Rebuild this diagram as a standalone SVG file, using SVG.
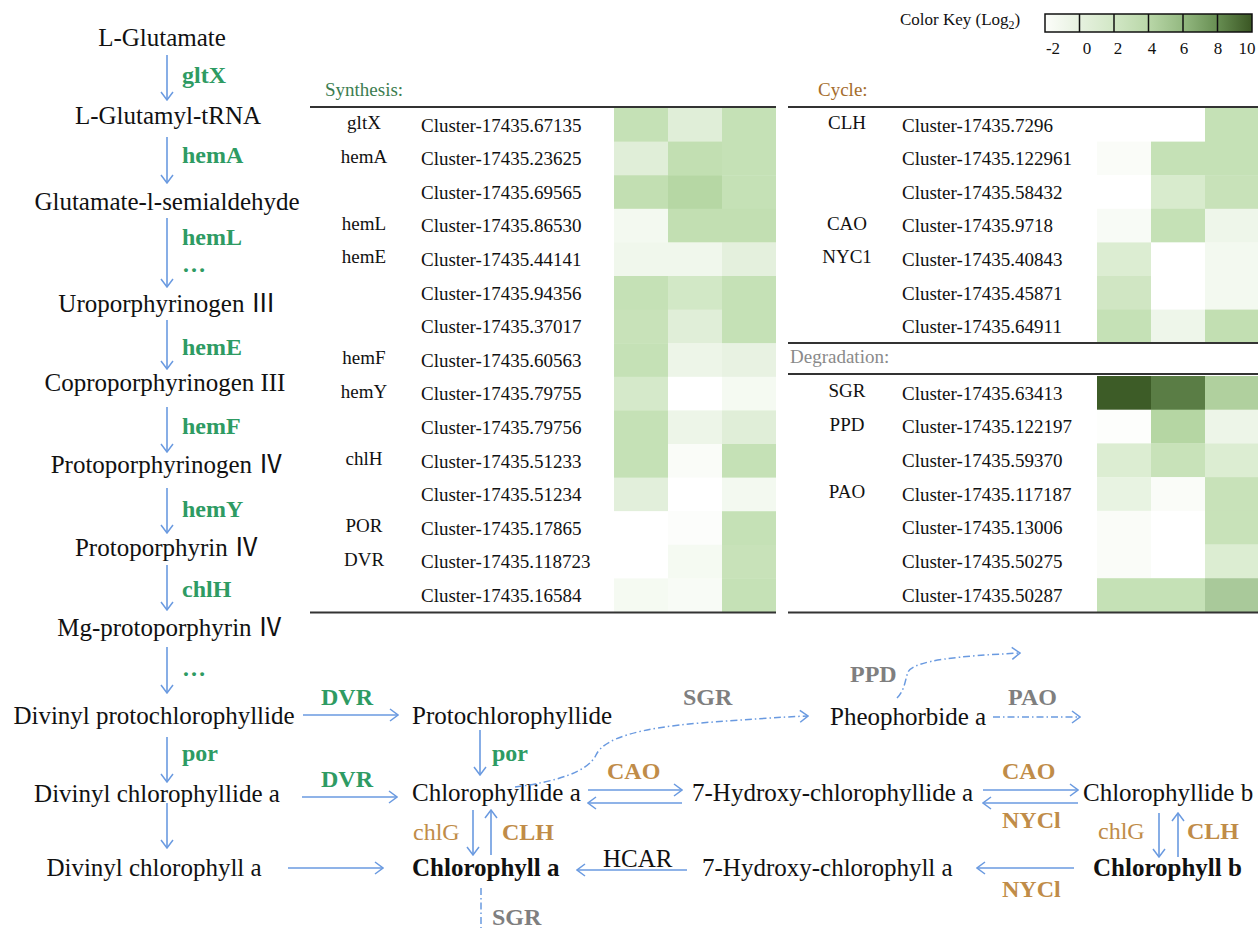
<svg xmlns="http://www.w3.org/2000/svg" width="1258" height="931" viewBox="0 0 1258 931" font-family="'Liberation Serif', Tinos, 'DejaVu Serif', serif">
<style>
text{font-family:'Liberation Serif', Tinos, 'DejaVu Serif', serif;fill:#111}
.rn{font-family:'Noto Sans CJK SC', 'Noto Sans CJK JP', 'DejaVu Serif', serif}
.m{font-size:25px;text-anchor:middle}
.s{font-size:25px}
.b{font-weight:bold}
.g{font-size:24px;font-weight:bold;fill:#2e9b63}
.o{font-size:24px;font-weight:bold;fill:#c08c48}
.on{font-size:24px;fill:#c08c48}
.gr{font-size:24px;font-weight:bold;fill:#7f7f7f}
.t{font-size:19px}
.tg{font-size:19px;text-anchor:middle}
.k{font-size:17px}
.ar{fill:none;stroke:#6a9ae0;stroke-width:1.6}
.dd{fill:none;stroke:#6a9ae0;stroke-width:1.5;stroke-dasharray:7 3 1.5 3}
.rule{stroke:#333;stroke-width:2}
</style>
<defs>
<marker id="ah" viewBox="0 0 10 14" refX="9" refY="7" markerWidth="10" markerHeight="14" markerUnits="userSpaceOnUse" orient="auto">
<path d="M1 1 L9 7 L1 13" fill="none" stroke="#6a9ae0" stroke-width="1.5"/>
</marker>
<linearGradient id="key" x1="0" x2="1" y1="0" y2="0">
<stop offset="0" stop-color="#fcfdfa"/>
<stop offset="0.17" stop-color="#e6f1df"/>
<stop offset="0.33" stop-color="#d2e7c6"/>
<stop offset="0.5" stop-color="#b9d7a8"/>
<stop offset="0.67" stop-color="#93b880"/>
<stop offset="0.83" stop-color="#688f53"/>
<stop offset="1" stop-color="#3a5623"/>
</linearGradient>
</defs>

<g id="colorkey">
<text class="k" x="900" y="25">Color Key (Log<tspan font-size="12" dy="4">2</tspan><tspan dy="-4">)</tspan></text>
<rect x="1045" y="14" width="207" height="18" fill="url(#key)" stroke="#111" stroke-width="1.5"/>
<g stroke="#111" stroke-width="1.5">
<line x1="1079.5" y1="14" x2="1079.5" y2="32"/>
<line x1="1114" y1="14" x2="1114" y2="32"/>
<line x1="1148.5" y1="14" x2="1148.5" y2="32"/>
<line x1="1183" y1="14" x2="1183" y2="32"/>
<line x1="1217.5" y1="14" x2="1217.5" y2="32"/>
</g>
<g class="k" text-anchor="middle">
<text x="1053" y="54">-2</text>
<text x="1087" y="54">0</text>
<text x="1118" y="54">2</text>
<text x="1152" y="54">4</text>
<text x="1184" y="54">6</text>
<text x="1218" y="54">8</text>
<text x="1247" y="54">10</text>
</g>
</g>

<g id="synthesis-table">
<text class="t" x="325" y="96" style="fill:#3c7d50">Synthesis:</text>
<g id="syn-cells">
<rect x="614" y="108" width="54" height="34" fill="#c5e1b6"/><rect x="668" y="108" width="54" height="34" fill="#e0eed8"/><rect x="722" y="108" width="54" height="34" fill="#c5e1b6"/>
<rect x="614" y="141.6" width="54" height="34" fill="#e0eed8"/><rect x="668" y="141.6" width="54" height="34" fill="#c2dfb2"/><rect x="722" y="141.6" width="54" height="34" fill="#c5e1b6"/>
<rect x="614" y="175.2" width="54" height="34" fill="#c2dfb2"/><rect x="668" y="175.2" width="54" height="34" fill="#b6d7a4"/><rect x="722" y="175.2" width="54" height="34" fill="#c5e1b6"/>
<rect x="614" y="208.8" width="54" height="34" fill="#f3f9f0"/><rect x="668" y="208.8" width="54" height="34" fill="#c2dfb2"/><rect x="722" y="208.8" width="54" height="34" fill="#c2dfb2"/>
<rect x="614" y="242.4" width="54" height="34" fill="#f0f7ec"/><rect x="668" y="242.4" width="54" height="34" fill="#f0f7ec"/><rect x="722" y="242.4" width="54" height="34" fill="#e4f0dd"/>
<rect x="614" y="276" width="54" height="34" fill="#c5e1b6"/><rect x="668" y="276" width="54" height="34" fill="#d2e8c6"/><rect x="722" y="276" width="54" height="34" fill="#c5e1b6"/>
<rect x="614" y="309.6" width="54" height="34" fill="#c8e2b9"/><rect x="668" y="309.6" width="54" height="34" fill="#e0eed8"/><rect x="722" y="309.6" width="54" height="34" fill="#c5e1b6"/>
<rect x="614" y="343.2" width="54" height="34" fill="#c5e1b6"/><rect x="668" y="343.2" width="54" height="34" fill="#edf5e8"/><rect x="722" y="343.2" width="54" height="34" fill="#e8f2e2"/>
<rect x="614" y="376.8" width="54" height="34" fill="#d5e9ca"/><rect x="668" y="376.8" width="54" height="34" fill="#ffffff"/><rect x="722" y="376.8" width="54" height="34" fill="#f5faf2"/>
<rect x="614" y="410.4" width="54" height="34" fill="#c5e1b6"/><rect x="668" y="410.4" width="54" height="34" fill="#edf5e8"/><rect x="722" y="410.4" width="54" height="34" fill="#e0eed8"/>
<rect x="614" y="444" width="54" height="34" fill="#c5e1b6"/><rect x="668" y="444" width="54" height="34" fill="#fafcf8"/><rect x="722" y="444" width="54" height="34" fill="#c5e1b6"/>
<rect x="614" y="477.6" width="54" height="34" fill="#e2efdb"/><rect x="668" y="477.6" width="54" height="34" fill="#ffffff"/><rect x="722" y="477.6" width="54" height="34" fill="#f3f9f0"/>
<rect x="614" y="511.2" width="54" height="34" fill="#ffffff"/><rect x="668" y="511.2" width="54" height="34" fill="#fcfdfb"/><rect x="722" y="511.2" width="54" height="34" fill="#c5e1b6"/>
<rect x="614" y="544.8" width="54" height="34" fill="#ffffff"/><rect x="668" y="544.8" width="54" height="34" fill="#f5faf2"/><rect x="722" y="544.8" width="54" height="34" fill="#c8e2b9"/>
<rect x="614" y="578.4" width="54" height="33.6" fill="#f5faf2"/><rect x="668" y="578.4" width="54" height="33.6" fill="#f8fbf6"/><rect x="722" y="578.4" width="54" height="33.6" fill="#c5e1b6"/>
</g>
<line class="rule" x1="310" y1="107" x2="776" y2="107"/>
<line class="rule" x1="310" y1="612.5" x2="776" y2="612.5"/>
<g>
<text class="tg" x="364" y="129">gltX</text>
<text class="tg" x="364" y="162.6">hemA</text>
<text class="tg" x="364" y="229.8">hemL</text>
<text class="tg" x="364" y="263.4">hemE</text>
<text class="tg" x="364" y="364.2">hemF</text>
<text class="tg" x="364" y="397.8">hemY</text>
<text class="tg" x="364" y="465">chlH</text>
<text class="tg" x="364" y="532.2">POR</text>
<text class="tg" x="364" y="565.8">DVR</text>
</g>
<g class="t">
<text x="421" y="131.5">Cluster-17435.67135</text>
<text x="421" y="165.1">Cluster-17435.23625</text>
<text x="421" y="198.7">Cluster-17435.69565</text>
<text x="421" y="232.3">Cluster-17435.86530</text>
<text x="421" y="265.9">Cluster-17435.44141</text>
<text x="421" y="299.5">Cluster-17435.94356</text>
<text x="421" y="333.1">Cluster-17435.37017</text>
<text x="421" y="366.7">Cluster-17435.60563</text>
<text x="421" y="400.3">Cluster-17435.79755</text>
<text x="421" y="433.9">Cluster-17435.79756</text>
<text x="421" y="467.5">Cluster-17435.51233</text>
<text x="421" y="501.1">Cluster-17435.51234</text>
<text x="421" y="534.7">Cluster-17435.17865</text>
<text x="421" y="568.3">Cluster-17435.118723</text>
<text x="421" y="601.9">Cluster-17435.16584</text>
</g>
</g>

<g id="cycle-table">
<text class="t" x="818" y="96" style="fill:#a56d2c">Cycle:</text>
<g id="cyc-cells">
<rect x="1097" y="108" width="54" height="34" fill="#ffffff"/><rect x="1151" y="108" width="54" height="34" fill="#ffffff"/><rect x="1205" y="108" width="53" height="34" fill="#c5e1b6"/>
<rect x="1097" y="141.6" width="54" height="34" fill="#fafcf8"/><rect x="1151" y="141.6" width="54" height="34" fill="#c5e1b6"/><rect x="1205" y="141.6" width="53" height="34" fill="#c5e1b6"/>
<rect x="1097" y="175.2" width="54" height="34" fill="#ffffff"/><rect x="1151" y="175.2" width="54" height="34" fill="#d8ebcd"/><rect x="1205" y="175.2" width="53" height="34" fill="#c8e2b9"/>
<rect x="1097" y="208.8" width="54" height="34" fill="#f8fbf6"/><rect x="1151" y="208.8" width="54" height="34" fill="#c5e1b6"/><rect x="1205" y="208.8" width="53" height="34" fill="#eef6ea"/>
<rect x="1097" y="242.4" width="54" height="34" fill="#dcedd2"/><rect x="1151" y="242.4" width="54" height="34" fill="#ffffff"/><rect x="1205" y="242.4" width="53" height="34" fill="#f3f9f0"/>
<rect x="1097" y="276" width="54" height="34" fill="#d0e6c3"/><rect x="1151" y="276" width="54" height="34" fill="#ffffff"/><rect x="1205" y="276" width="53" height="34" fill="#f3f9f0"/>
<rect x="1097" y="309.6" width="54" height="33.4" fill="#c5e1b6"/><rect x="1151" y="309.6" width="54" height="33.4" fill="#eef6ea"/><rect x="1205" y="309.6" width="53" height="33.4" fill="#c2dfb2"/>
</g>
<line class="rule" x1="788" y1="107" x2="1258" y2="107"/>
<line class="rule" x1="788" y1="343" x2="1258" y2="343"/>
<g>
<text class="tg" x="847" y="129">CLH</text>
<text class="tg" x="847" y="229.8">CAO</text>
<text class="tg" x="847" y="263.4">NYC1</text>
</g>
<g class="t">
<text x="902" y="131.5">Cluster-17435.7296</text>
<text x="902" y="165.1">Cluster-17435.122961</text>
<text x="902" y="198.7">Cluster-17435.58432</text>
<text x="902" y="232.3">Cluster-17435.9718</text>
<text x="902" y="265.9">Cluster-17435.40843</text>
<text x="902" y="299.5">Cluster-17435.45871</text>
<text x="902" y="333.1">Cluster-17435.64911</text>
</g>
<text class="t" x="790" y="363" style="fill:#8a8a8a">Degradation:</text>
<g id="deg-cells">
<rect x="1097" y="376" width="54" height="34" fill="#3d5c27"/><rect x="1151" y="376" width="54" height="34" fill="#5a7d45"/><rect x="1205" y="376" width="53" height="34" fill="#b0d09e"/>
<rect x="1097" y="409.7" width="54" height="34" fill="#fdfefc"/><rect x="1151" y="409.7" width="54" height="34" fill="#b5d6a3"/><rect x="1205" y="409.7" width="53" height="34" fill="#edf5e8"/>
<rect x="1097" y="443.4" width="54" height="34" fill="#dcedd2"/><rect x="1151" y="443.4" width="54" height="34" fill="#c8e2b9"/><rect x="1205" y="443.4" width="53" height="34" fill="#dcedd2"/>
<rect x="1097" y="477.1" width="54" height="34" fill="#e8f3e2"/><rect x="1151" y="477.1" width="54" height="34" fill="#fafcf8"/><rect x="1205" y="477.1" width="53" height="34" fill="#c8e2b9"/>
<rect x="1097" y="510.8" width="54" height="34" fill="#fafcf8"/><rect x="1151" y="510.8" width="54" height="34" fill="#ffffff"/><rect x="1205" y="510.8" width="53" height="34" fill="#c8e2b9"/>
<rect x="1097" y="544.5" width="54" height="34" fill="#fafcf8"/><rect x="1151" y="544.5" width="54" height="34" fill="#ffffff"/><rect x="1205" y="544.5" width="53" height="34" fill="#dcedd2"/>
<rect x="1097" y="578.2" width="54" height="33.8" fill="#c5e1b6"/><rect x="1151" y="578.2" width="54" height="33.8" fill="#c5e1b6"/><rect x="1205" y="578.2" width="53" height="33.8" fill="#a9c99a"/>
</g>
<line class="rule" x1="788" y1="374" x2="1258" y2="374"/>
<line class="rule" x1="788" y1="612.5" x2="1258" y2="612.5"/>
<g>
<text class="tg" x="847" y="397">SGR</text>
<text class="tg" x="847" y="430.7">PPD</text>
<text class="tg" x="847" y="498.1">PAO</text>
</g>
<g class="t">
<text x="902" y="399.5">Cluster-17435.63413</text>
<text x="902" y="433.2">Cluster-17435.122197</text>
<text x="902" y="466.9">Cluster-17435.59370</text>
<text x="902" y="500.6">Cluster-17435.117187</text>
<text x="902" y="534.3">Cluster-17435.13006</text>
<text x="902" y="568">Cluster-17435.50275</text>
<text x="902" y="601.7">Cluster-17435.50287</text>
</g>
</g>

<g id="n-glutamate"><text class="m" x="162" y="46">L-Glutamate</text></g>
<g id="n-glutamyl-trna"><text class="m" x="168" y="124">L-Glutamyl-tRNA</text></g>
<g id="n-gsa"><text class="m" x="167" y="210">Glutamate-l-semialdehyde</text></g>
<g id="n-uro"><text class="m" x="167" y="312">Uroporphyrinogen <tspan class="rn">Ⅲ</tspan></text></g>
<g id="n-copro"><text class="m" x="165" y="391">Coproporphyrinogen III</text></g>
<g id="n-protogen"><text class="m" x="167" y="473">Protoporphyrinogen <tspan class="rn">Ⅳ</tspan></text></g>
<g id="n-proto"><text class="m" x="167" y="556">Protoporphyrin <tspan class="rn">Ⅳ</tspan></text></g>
<g id="n-mgproto"><text class="m" x="170" y="636">Mg-protoporphyrin <tspan class="rn">Ⅳ</tspan></text></g>
<g id="n-dvpchlide"><text class="m" x="154" y="724">Divinyl protochlorophyllide</text></g>
<g id="n-dvchlide"><text class="m" x="157" y="802">Divinyl chlorophyllide a</text></g>
<g id="n-dvchl"><text class="m" x="154" y="876">Divinyl chlorophyll a</text></g>
<g id="n-pchlide"><text class="s" x="412" y="724">Protochlorophyllide</text></g>
<g id="n-chlide-a"><text class="s" x="412" y="801">Chlorophyllide a</text></g>
<g id="n-chl-a"><text class="s b" x="412" y="876">Chlorophyll a</text></g>
<g id="n-hchlide"><text class="s" x="692" y="801">7-Hydroxy-chlorophyllide a</text></g>
<g id="n-hchl"><text class="s" x="702" y="876">7-Hydroxy-chlorophyll a</text></g>
<g id="n-chlide-b"><text class="s" x="1083" y="801">Chlorophyllide b</text></g>
<g id="n-chl-b"><text class="s b" x="1093" y="876">Chlorophyll b</text></g>
<g id="n-pheide"><text class="s" x="830" y="725">Pheophorbide a</text></g>

<g id="connectors">
<line class="ar" x1="167" y1="55" x2="167" y2="100" marker-end="url(#ah)"/>
<line class="ar" x1="167" y1="137" x2="167" y2="183" marker-end="url(#ah)"/>
<line class="ar" x1="167" y1="218" x2="167" y2="287" marker-end="url(#ah)"/>
<line class="ar" x1="167" y1="320" x2="167" y2="369" marker-end="url(#ah)"/>
<line class="ar" x1="167" y1="407" x2="167" y2="452" marker-end="url(#ah)"/>
<line class="ar" x1="167" y1="488" x2="167" y2="533" marker-end="url(#ah)"/>
<line class="ar" x1="167" y1="565" x2="167" y2="610" marker-end="url(#ah)"/>
<line class="ar" x1="167" y1="647" x2="167" y2="693" marker-end="url(#ah)"/>
<line class="ar" x1="167" y1="737" x2="167" y2="782" marker-end="url(#ah)"/>
<line class="ar" x1="167" y1="803" x2="167" y2="848" marker-end="url(#ah)"/>
<line class="ar" x1="303" y1="715" x2="398" y2="715" marker-end="url(#ah)"/>
<line class="ar" x1="302" y1="797" x2="397" y2="797" marker-end="url(#ah)"/>
<line class="ar" x1="288" y1="868" x2="383" y2="868" marker-end="url(#ah)"/>
<line class="ar" x1="480" y1="730" x2="480" y2="775" marker-end="url(#ah)"/>
<line class="ar" x1="588" y1="790" x2="682" y2="790" marker-end="url(#ah)"/>
<line class="ar" x1="682" y1="803" x2="588" y2="803" marker-end="url(#ah)"/>
<line class="ar" x1="473" y1="810" x2="473" y2="855" marker-end="url(#ah)"/>
<line class="ar" x1="491" y1="855" x2="491" y2="810" marker-end="url(#ah)"/>
<line class="ar" x1="687" y1="870" x2="577" y2="870" marker-end="url(#ah)"/>
<line class="ar" x1="983" y1="790" x2="1078" y2="790" marker-end="url(#ah)"/>
<line class="ar" x1="1078" y1="803" x2="983" y2="803" marker-end="url(#ah)"/>
<line class="ar" x1="1159" y1="813" x2="1159" y2="857" marker-end="url(#ah)"/>
<line class="ar" x1="1178" y1="857" x2="1178" y2="813" marker-end="url(#ah)"/>
<line class="ar" x1="1074" y1="868" x2="977" y2="868" marker-end="url(#ah)"/>
<path class="dd" d="M515 787 C555 782 588 772 596 755 C604 738 640 728 700 723 C740 720 780 717 808 716" marker-end="url(#ah)"/>
<path class="dd" d="M897 698 C905 690 905 680 908 672 C915 660 960 656 1020 653" marker-end="url(#ah)"/>
<line class="dd" x1="993" y1="717" x2="1080" y2="717" marker-end="url(#ah)"/>
<line class="dd" x1="481" y1="888" x2="481" y2="928"/>
</g>

<g id="enzyme-labels">
<text class="g" x="182" y="83">gltX</text>
<text class="g" x="182" y="163">hemA</text>
<text class="g" x="182" y="245">hemL</text>
<text class="g" x="182" y="272">…</text>
<text class="g" x="182" y="355">hemE</text>
<text class="g" x="182" y="434">hemF</text>
<text class="g" x="182" y="517">hemY</text>
<text class="g" x="182" y="597">chlH</text>
<text class="g" x="182" y="676">…</text>
<text class="g" x="182" y="761">por</text>
<text class="g" x="321" y="705">DVR</text>
<text class="g" x="321" y="787">DVR</text>
<text class="g" x="492" y="761">por</text>
<text class="gr" x="683" y="705">SGR</text>
<text class="gr" x="850" y="682">PPD</text>
<text class="gr" x="1008" y="705">PAO</text>
<text class="gr" x="492" y="925">SGR</text>
<text class="o" x="607" y="779">CAO</text>
<text class="o" x="1002" y="779">CAO</text>
<text class="o" x="1002" y="828">NYCl</text>
<text class="o" x="1002" y="897">NYCl</text>
<text class="on" x="413" y="840">chlG</text>
<text class="o" x="502" y="840">CLH</text>
<text class="on" x="1098" y="839">chlG</text>
<text class="o" x="1187" y="839">CLH</text>
<text x="603" y="867" style="font-size:25px">HCAR</text>
</g>
</svg>
